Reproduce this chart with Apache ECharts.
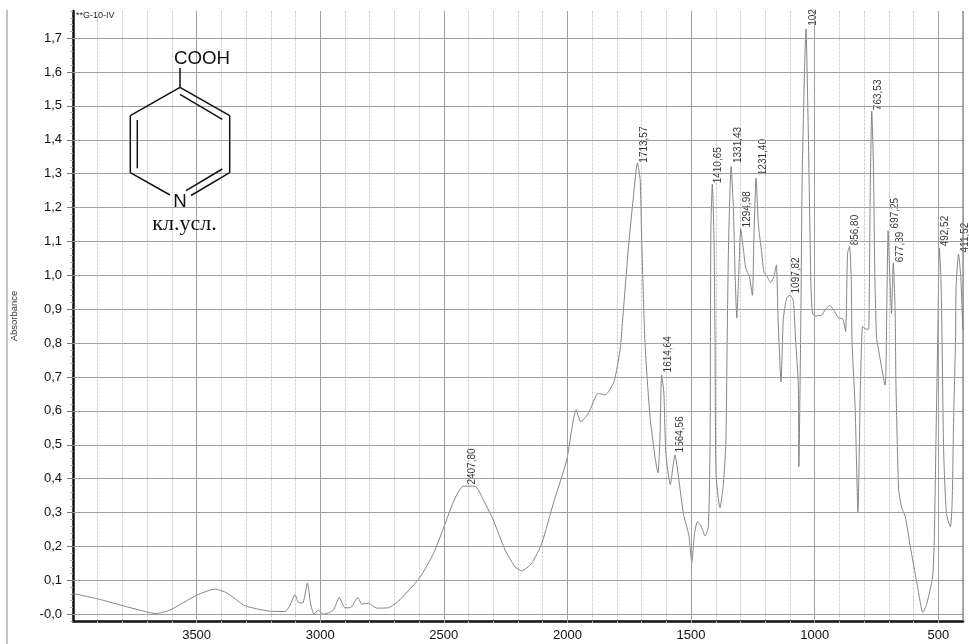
<!DOCTYPE html>
<html>
<head>
<meta charset="utf-8">
<style>html,body{margin:0;padding:0;background:#fff}#c{width:969px;height:644px}</style>
<script src="https://cdn.jsdelivr.net/npm/echarts@6/dist/echarts.min.js"></script>
</head>
<body>
<div id="c"></div>
<script>
const spectrumWn = [4000,3904,3798,3729,3668,3608,3500,3426,3378,3304,3203,3142,3122,3102,3089,3071,3052,3039,3025,3008,2987,2947,2923,2900,2879,2848,2832,2805,2771,2725,2677,2596,2542,2502,2455,2421,2374,2340,2300,2252,2212,2185,2145,2104,2057,2003,1965,1946,1915,1875,1848,1812,1787,1780,1753,1733,1717,1706,1700,1686,1666,1646,1634,1626,1619,1610,1602,1584,1565,1551,1531,1509,1497,1486,1474,1461,1443,1430,1423,1420,1414,1407,1403,1399,1383,1369,1359,1354,1348,1338,1329,1322,1315,1307,1299,1288,1279,1264,1252,1246,1237,1228,1214,1205,1194,1178,1165,1155,1148,1136,1127,1113,1100,1086,1078,1066,1064,1056,1050,1035,1028,1022,1015,1009,998,971,958,940,924,904,886,875,867,859,852,849,836,825,815,806,795,782,780,775,769,762,757,750,744,715,709,703,697,689,682,675,671,660,647,633,613,586,562,546,523,516,508,501,496,489,485,478,467,451,444,438,430,428,418,409,402,400];
const spectrumAbs = [0.061,0.046,0.025,0.012,0.002,0.012,0.056,0.074,0.063,0.025,0.009,0.008,0.027,0.058,0.035,0.033,0.092,0.032,0.0,0.012,0.0,0.012,0.049,0.019,0.019,0.049,0.03,0.032,0.018,0.019,0.043,0.11,0.179,0.253,0.342,0.378,0.378,0.337,0.278,0.189,0.14,0.128,0.15,0.209,0.327,0.455,0.603,0.568,0.593,0.652,0.647,0.686,0.78,0.839,1.085,1.233,1.331,1.282,1.115,0.795,0.583,0.465,0.417,0.514,0.706,0.653,0.475,0.383,0.47,0.406,0.297,0.233,0.152,0.238,0.273,0.263,0.231,0.258,0.514,1.125,1.269,1.105,0.809,0.416,0.314,0.386,0.514,0.809,1.105,1.321,1.203,1.007,0.874,1.007,1.137,1.075,1.022,0.996,0.941,1.105,1.287,1.154,1.065,1.009,0.999,0.979,0.996,1.031,0.869,0.686,0.869,0.933,0.942,0.923,0.819,0.672,0.435,0.869,1.312,1.727,1.51,1.262,0.967,0.888,0.88,0.883,0.898,0.911,0.898,0.875,0.871,0.834,1.065,1.085,0.987,0.809,0.603,0.302,0.672,0.849,0.842,0.841,0.869,1.262,1.484,1.312,1.016,0.819,0.79,0.676,0.869,1.132,1.016,0.888,1.037,0.908,0.672,0.366,0.312,0.287,0.199,0.091,0.005,0.032,0.11,0.228,0.573,0.869,1.081,0.987,0.819,0.475,0.297,0.258,0.328,0.573,0.819,0.967,1.062,0.996,0.869,0.84];
const peakNames = ['2407,80','1713,57','1614,64','1564,56','1410,65','1331,43','1294,98','1231,40','1097,82','102','856,80','763,53','697,25','677,89','492,52','411,52'];
const peakWn = [2407.8,1713.57,1614.64,1564.56,1410.65,1331.43,1294.98,1231.4,1097.82,1028,856.8,763.53,697.25,677.89,492.52,411.52];
const peakAbs = [0.381,1.331,0.712,0.476,1.27,1.33,1.14,1.294,0.945,1.735,1.087,1.486,1.137,1.037,1.084,1.066];
const yMajor = [0,0.1,0.2,0.3,0.4,0.5,0.6,0.7,0.8,0.9,1.0,1.1,1.2,1.3,1.4,1.5,1.6,1.7];
const yTickLabels = ['-0,0','0,1','0,2','0,3','0,4','0,5','0,6','0,7','0,8','0,9','1,0','1,1','1,2','1,3','1,4','1,5','1,6','1,7'];
const xMajor = [3500,3000,2500,2000,1500,1000,500];

const font = '"Liberation Sans", Arial, sans-serif';
const chart = echarts.init(document.getElementById('c'), null, {renderer:'canvas'});
const line = (x1,y1,x2,y2,w,c)=>({type:'line',silent:true,z:10,shape:{x1,y1,x2,y2},style:{stroke:c||'#111',lineWidth:w||1.5}});
const txt = (x,y,t,f,fam,c)=>({type:'text',silent:true,z:10,x,y,style:{text:t,font:f+'px '+fam,fill:c||'#111',textAlign:'center',textVerticalAlign:'middle'}});

chart.setOption({
  animation:false,
  backgroundColor:'#fff',
  grid:{left:73,right:6,top:11,bottom:23,containLabel:false,outerBoundsMode:'none'},
  xAxis:{type:'value',inverse:true,min:400,max:4000,interval:100,
    axisLine:{show:true,onZero:false,lineStyle:{color:'#111',width:2.5}},
    axisTick:{show:true,length:2,lineStyle:{color:'#aaa'}},
    axisLabel:{color:'#111',fontSize:13,fontFamily:font,margin:8,showMinLabel:false,showMaxLabel:false,
      formatter:v=>xMajor.includes(v)?String(v):''},
    splitLine:{show:true,lineStyle:{color:'#d2d2d2',width:1,type:[3,1]}}},
  yAxis:[
    {type:'value',min:-0.02,max:1.78,interval:0.02,
     axisLine:{show:true,onZero:false,lineStyle:{color:'#111',width:2.5}},
     axisTick:{show:true,length:3,lineStyle:{color:'#aaa'}},
     axisLabel:{color:'#111',fontSize:13,fontFamily:font,margin:11,
       formatter:v=>{const i=yMajor.findIndex(m=>Math.abs(m-v)<1e-6);return i<0?'':yTickLabels[i];}},
     splitLine:{show:false},
     name:'Absorbance',nameLocation:'middle',nameGap:54,
     nameTextStyle:{fontSize:9.5,fontFamily:font,color:'#333'}},
    {type:'value',min:-0.02,max:1.78,position:'left',
     axisLine:{show:false},
     axisTick:{show:true,length:6,lineStyle:{color:'#777'},customValues:yMajor},
     axisLabel:{show:false},splitLine:{show:false}}
  ],
  series:[
    {type:'line',data:[],silent:true,z:1,
     markLine:{silent:true,symbol:'none',label:{show:false},animation:false,
       lineStyle:{color:'#a0a0a0',width:1,type:'solid'},
       data:yMajor.map(v=>({yAxis:v}))}},
    {type:'line',data:[],silent:true,z:1,
     markLine:{silent:true,symbol:'none',label:{show:false},animation:false,
       lineStyle:{color:'#a0a0a0',width:1,type:'solid'},
       data:xMajor.map(v=>({xAxis:v}))}},
    {type:'line',z:3,showSymbol:false,symbol:'none',smooth:0.2,silent:true,
     lineStyle:{color:'#777',width:0.9},
     data:spectrumWn.map((w,i)=>[w,spectrumAbs[i]])},
    {type:'scatter',z:4,silent:true,symbolSize:1,itemStyle:{color:'transparent'},clip:false,
     data:peakWn.map((w,i)=>({value:[w,peakAbs[i]],name:peakNames[i]})),
     label:{show:true,formatter:p=>p.name,position:[6,0],rotate:90,align:'left',verticalAlign:'middle',
       fontSize:10,fontFamily:font,color:'#000'}}
  ],
  graphic:[
    line(7,10,7,644,1,'#888'),
    line(963,11,963,621,1.2,'#777'),
    {type:'text',silent:true,z:10,x:76,y:16,style:{text:'**G-10-IV',font:'9px '+font,fill:'#222',textVerticalAlign:'middle'}},
    line(180,68,180,87.3),
    line(180,87.3,229.7,115.7),
    line(229.7,115.7,229.7,172.7),
    line(229.7,172.7,191,195.5),
    line(170,195,130.3,172.7),
    line(130.3,172.7,130.3,115.7),
    line(130.3,115.7,180,87.3),
    line(180,94.3,222.3,119.3),
    line(137.3,120,137.3,168.3),
    line(222.3,169,186,190.7),
    txt(202,59,'COOH',18.7,font),
    txt(180,202,'N',18.7,font),
    txt(184.5,224,'кл.усл.',22,'"Liberation Serif", "Times New Roman", serif')
  ]
});
</script>
</body>
</html>
